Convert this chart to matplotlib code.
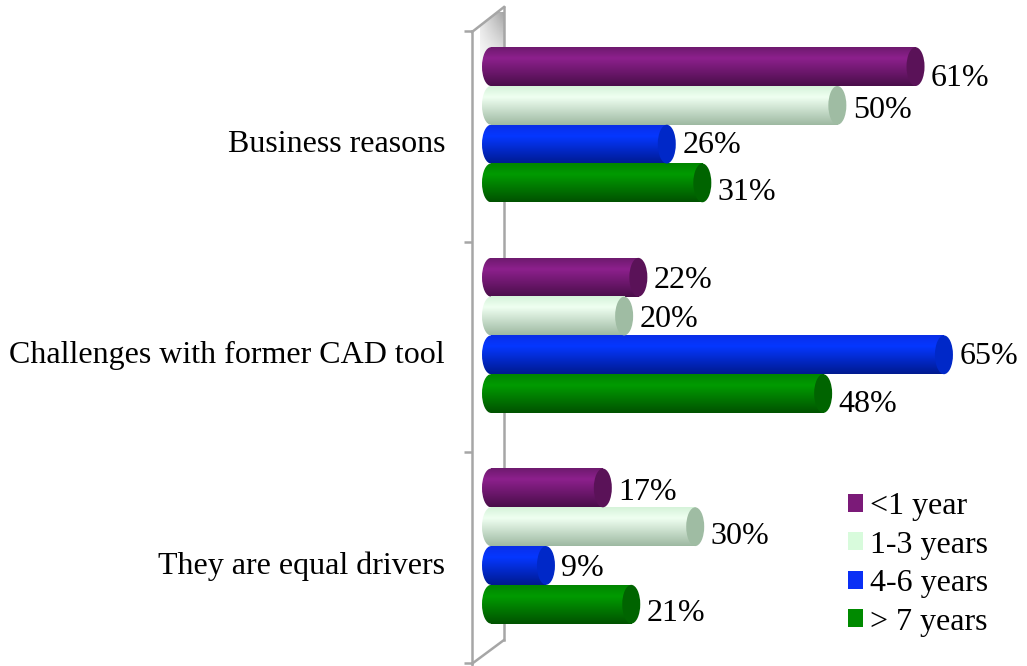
import matplotlib
matplotlib.use('Agg')
import matplotlib.pyplot as plt
import matplotlib.transforms as mtrans
import numpy as np
from matplotlib.patches import Ellipse, Rectangle, Polygon
from matplotlib.lines import Line2D
from matplotlib.colors import to_rgb

plt.rcParams['font.family'] = ['Liberation Serif', 'DejaVu Serif']

# data
categories = ['Business reasons', 'Challenges with former CAD tool', 'They are equal drivers']
series = ['<1 year', '1-3 years', '4-6 years', '> 7 years']
values = [
    [61, 22, 17],   # <1 year
    [50, 20, 30],   # 1-3 years
    [26, 65, 9],    # 4-6 years
    [31, 48, 21],   # > 7 years
]
legend_colors = ['#7b1a78', '#d8fbdc', '#0a2ff5', '#008a00']
# top, highlight, bottom, cap
shades = [
    ['#6e1a6e', '#8d208d', '#4a0e4a', '#5a1258'],
    ['#d6f3da', '#effff1', '#9eb9a2', '#9fbca3'],
    ['#0a2fe8', '#0537ff', '#001a90', '#0028c8'],
    ['#008500', '#009b00', '#005200', '#006400'],
]
# small vertical nudges of the value labels (px), like the original layout
label_dy = [
    [8, 0, 1],
    [2, 0, 6],
    [-2, -2, 0],
    [6, 7, 6],
]

W, H = 1027, 666
fig = plt.figure(figsize=(W / 100, H / 100), dpi=100)

# pixel geometry of the plot
px0, px_per = 491.0, 7.107
ax_l, ax_r, ax_t, ax_b = 472, 1027, 31, 663

# grey shading on the back wall
wall = fig.add_axes([480 / W, 1 - 80 / H, 24 / W, 68 / H], zorder=0)
gx = np.linspace(0, 1, 40)
gy = np.linspace(0, 1, 60)
alpha = np.outer(np.clip(1 - gy, 0, 1) ** 1.2, 0.3 + 0.7 * gx)
shade = np.zeros((60, 40, 4))
shade[..., :3] = to_rgb('#9a9a9a')
shade[..., 3] = alpha * 0.9
im_wall = wall.imshow(shade, aspect='auto', interpolation='bilinear',
                      extent=(480, 504, 80, 12))
wall.set_xlim(480, 504)
wall.set_ylim(80, 12)
# keep the shading inside the wall (below the slanted top edge)
clip = Polygon([(480, 32 - (480 - 472) * 25 / 32), (504, 7), (504, 80), (480, 80)],
               closed=True, transform=wall.transData)
im_wall.set_clip_path(clip)
wall.axis('off')

ax = fig.add_axes([ax_l / W, (H - ax_b) / H, (ax_r - ax_l) / W, (ax_b - ax_t) / H], zorder=1)
ax.set_facecolor('none')
xlim = ((ax_l - px0) / px_per, (ax_r - px0) / px_per)

bar_h = 0.184
offsets = [-0.331 + i * bar_h for i in range(4)]
cap_w = 9.0 / px_per  # half width of end ellipse in data units


def gradient(stops):
    t = np.linspace(0, 1, 64)
    pos = [0, 0.28, 1]
    cols = np.array([to_rgb(c) for c in stops[:3]])
    arr = np.stack([np.interp(t, pos, cols[:, k]) for k in range(3)], axis=-1)
    return arr[:, None, :]


# 3D wall outline (figure pixels), drawn behind the bars
def wall_line(xs, ys):
    ax.add_line(Line2D([x / W for x in xs], [1 - y / H for y in ys],
                       transform=fig.transFigure, color='#a6a6a6', lw=1.8,
                       zorder=0.5, clip_on=False))

wall_line([472, 504], [32, 7])
wall_line([504, 504], [7, 640])
wall_line([504, 473], [640, 663])
wall_line([472, 472], [663, 666])

for s in range(4):
    grad = gradient(shades[s])
    for c in range(3):
        v = values[s][c]
        yc = c + offsets[s]
        y_top, y_bot = yc - bar_h / 2, yc + bar_h / 2
        xe = v - cap_w
        # body
        ax.imshow(grad, extent=(0, xe, y_bot, y_top), origin='upper',
                  aspect='auto', interpolation='bilinear', zorder=2)
        # rounded back end
        el = Ellipse((0, yc), 2 * cap_w, bar_h, transform=ax.transData)
        im = ax.imshow(grad, extent=(-cap_w, cap_w, y_bot, y_top), origin='upper',
                       aspect='auto', interpolation='bilinear', zorder=2)
        im.set_clip_path(el)
        # front cap
        ax.add_patch(Ellipse((xe, yc), 2 * cap_w, bar_h, facecolor=shades[s][3],
                             edgecolor='none', zorder=3))
        tr = mtrans.offset_copy(ax.transData, fig=fig, x=0, y=-(label_dy[s][c] + 11) * 0.72,
                                units='points')
        ax.text(v + 0.9, yc, f'{v}%', fontsize=23, va='baseline', ha='left',
                zorder=4, transform=tr)

ax.set_xlim(*xlim)
ax.set_ylim(2.5, -0.5)

# category labels
for c, name in enumerate(categories):
    tr = mtrans.offset_copy(ax.get_yaxis_transform(), fig=fig, x=-27 * 0.72,
                            y=-16 * 0.72, units='points')
    ax.text(0, c, name, fontsize=23, ha='right', va='baseline', transform=tr)

# axes styling
for sp in ['top', 'right', 'bottom']:
    ax.spines[sp].set_visible(False)
ax.spines['left'].set_color('#a6a6a6')
ax.spines['left'].set_linewidth(1.8)
ax.set_xticks([])
ax.set_yticks([])
ax.set_yticks([-0.5, 0.5, 1.5, 2.5], minor=True)
ax.tick_params(axis='y', which='minor', length=6, width=1.8, color='#a6a6a6',
               labelleft=False)

# legend
handles = [Rectangle((0, 0), 1, 1, facecolor=legend_colors[i], edgecolor='none') for i in range(4)]
fig.legend(handles, series, loc='upper left', bbox_to_anchor=(848 / W, 1 - 492 / H),
           frameon=False, fontsize=23, handlelength=0.48, handleheight=0.48,
           handletextpad=0.2, labelspacing=0.30, borderpad=0, borderaxespad=0)

fig.savefig('out.png', dpi=100)
